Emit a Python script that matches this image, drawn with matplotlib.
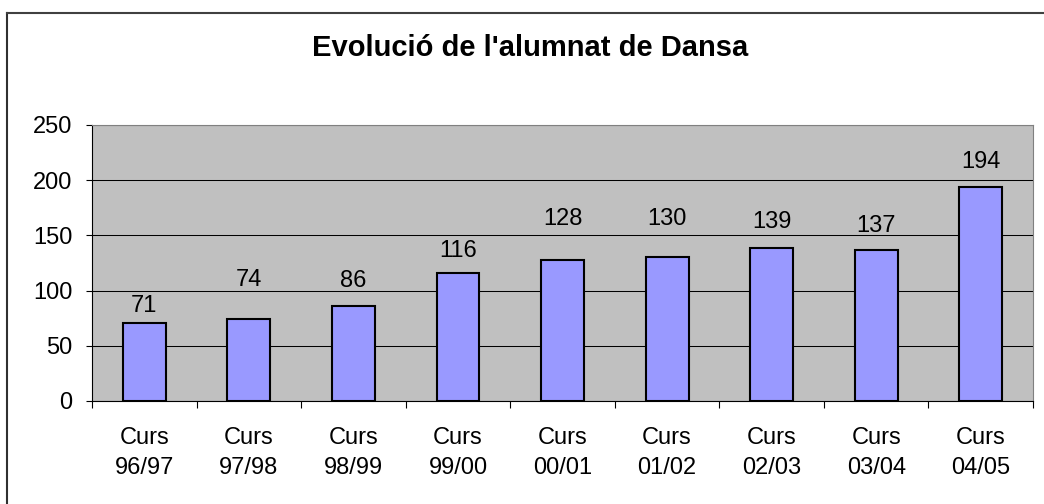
import matplotlib
matplotlib.use('Agg')
import matplotlib.pyplot as plt
from matplotlib.lines import Line2D

plt.rcParams['font.family'] = ['Liberation Sans', 'DejaVu Sans']

# dades
cursos = ['Curs\n96/97', 'Curs\n97/98', 'Curs\n98/99', 'Curs\n99/00', 'Curs\n00/01',
          'Curs\n01/02', 'Curs\n02/03', 'Curs\n03/04', 'Curs\n04/05']
alumnes = [71, 74, 86, 116, 128, 130, 139, 137, 194]
y_ticks = [0, 50, 100, 150, 200, 250]

# separació (px) entre la barra i la línia base de l'etiqueta, com a l'original
sep_etiqueta = [11, 33, 19, 16, 35, 32, 20, 18, 19]

fig = plt.figure(figsize=(10.44, 5.04), dpi=100)
ax = fig.add_axes([0.0881, 0.2044, 0.9014, 0.5476])
ax.set_facecolor('#C0C0C0')

x = list(range(len(cursos)))
barres = ax.bar(x, alumnes, width=0.41, color='#9999FF', edgecolor='black', linewidth=1.5, zorder=3)

# etiquetes sobre les barres
for b, v, s in zip(barres, alumnes, sep_etiqueta):
    ax.annotate(str(v), (b.get_x() + b.get_width() / 2, v), xytext=(0, s * 0.72),
                textcoords='offset points', ha='center', va='baseline', fontsize=17)

ax.set_xlim(-0.5, len(cursos) - 0.5)
ax.set_ylim(0, 250)
ax.set_yticks(y_ticks)
ax.tick_params(axis='y', labelsize=17, length=4, width=0.8, pad=10)
ax.yaxis.grid(True, color='black', linewidth=0.75, zorder=0)
ax.set_axisbelow(True)

# ticks de l'eix x entre categories
ax.set_xticks([i + 0.5 for i in range(-1, len(cursos))], minor=False)
ax.set_xticklabels([])
ax.set_xticks(x, minor=True)
ax.set_xticklabels(cursos, minor=True, fontsize=17, linespacing=1.45)
ax.tick_params(axis='x', which='major', length=5, width=0.8, direction='out')
ax.tick_params(axis='x', which='minor', length=0, pad=19)

ax.spines['top'].set_color('#808080')
ax.spines['right'].set_color('#808080')
ax.spines['left'].set_color('black')
ax.spines['bottom'].set_color('black')

fig.text(0.5077, 0.905, "Evolució de l'alumnat de Dansa", ha='center', va='center',
         fontsize=21, fontweight='bold')

# marc del gràfic
fig.add_artist(Line2D([7 / 1044, 7 / 1044], [0, 1 - 13 / 504], transform=fig.transFigure,
                      color='#303030', linewidth=1.5))
fig.add_artist(Line2D([7 / 1044, 1], [1 - 13 / 504, 1 - 13 / 504], transform=fig.transFigure,
                      color='#404040', linewidth=1.5))

fig.savefig('out.png', dpi=100, facecolor='white')
